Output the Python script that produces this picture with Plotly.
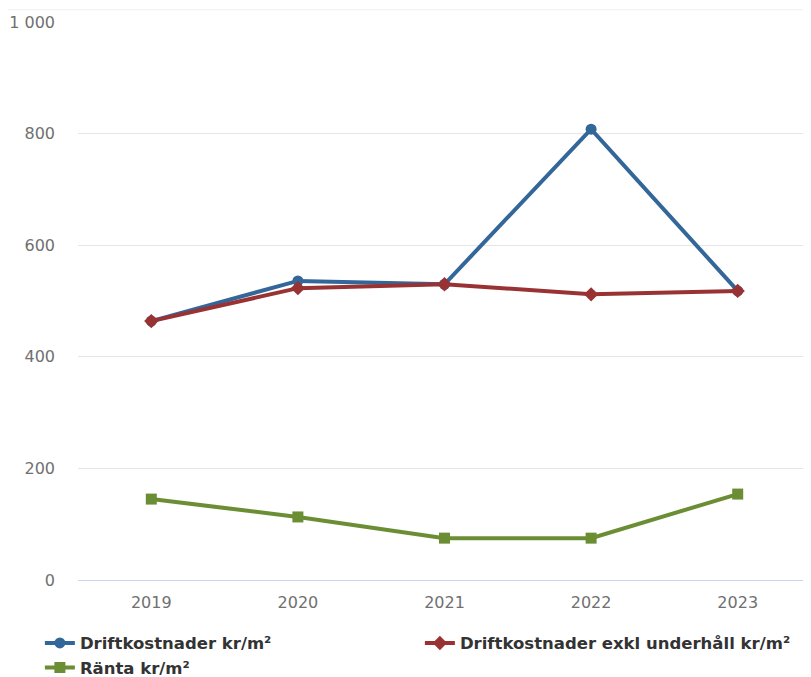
import plotly.graph_objects as go

years = ["2019", "2020", "2021", "2022", "2023"]
drift = [464, 536, 530, 808, 518]
drift_exkl = [464, 523, 530, 512, 518]
ranta = [145, 113, 75, 75, 154]

fig = go.Figure()
fig.add_trace(go.Scatter(x=years, y=drift, name="Driftkostnader kr/m²", mode="lines+markers",
                         line=dict(color="#336699", width=4),
                         marker=dict(symbol="circle", size=11, color="#336699")))
fig.add_trace(go.Scatter(x=years, y=drift_exkl, name="Driftkostnader exkl underhåll kr/m²", mode="lines+markers",
                         line=dict(color="#993333", width=4),
                         marker=dict(symbol="diamond", size=11, color="#993333")))
fig.add_trace(go.Scatter(x=years, y=ranta, name="Ränta kr/m²", mode="lines+markers",
                         line=dict(color="#6b8e35", width=4),
                         marker=dict(symbol="square", size=11, color="#6b8e35")))

fig.update_layout(
    width=803, height=669,
    margin=dict(l=70, r=0, t=14, b=97, autoexpand=False),
    paper_bgcolor="white", plot_bgcolor="white",
    font=dict(family="DejaVu Sans", color="#707070", size=16),
    showlegend=True,
    legend=dict(orientation="h", x=-0.052, xanchor="left", y=-0.082, yanchor="top",
                xref="paper", yref="paper",
                font=dict(family="DejaVu Sans", size=16.5, color="#333333", weight="bold"),
                entrywidth=335, entrywidthmode="pixels", itemwidth=30, tracegroupgap=0),
    xaxis=dict(type="category", showgrid=False, showline=True, linecolor="#ccd6eb", linewidth=1,
               ticks="", ticklabelstandoff=8, tickfont=dict(size=16, color="#707070"),
               range=[-0.5, 4.5], automargin=False),
    yaxis=dict(range=[0, 1000], tickvals=[0, 200, 400, 600, 800, 1000],
               ticktext=["0", "200", "400", "600", "800", "1 000"],
               showgrid=True, gridcolor="#e6e6e6", gridwidth=1, zeroline=False, automargin=False,
               ticks="", ticklabelstandoff=22, tickfont=dict(size=16, color="#707070")),
)
fig.add_shape(type="line", xref="paper", yref="paper", x0=-0.11, x1=1, y0=1.022, y1=1.022,
              line=dict(color="#f0f0f0", width=1))

fig.write_html("out.html")
